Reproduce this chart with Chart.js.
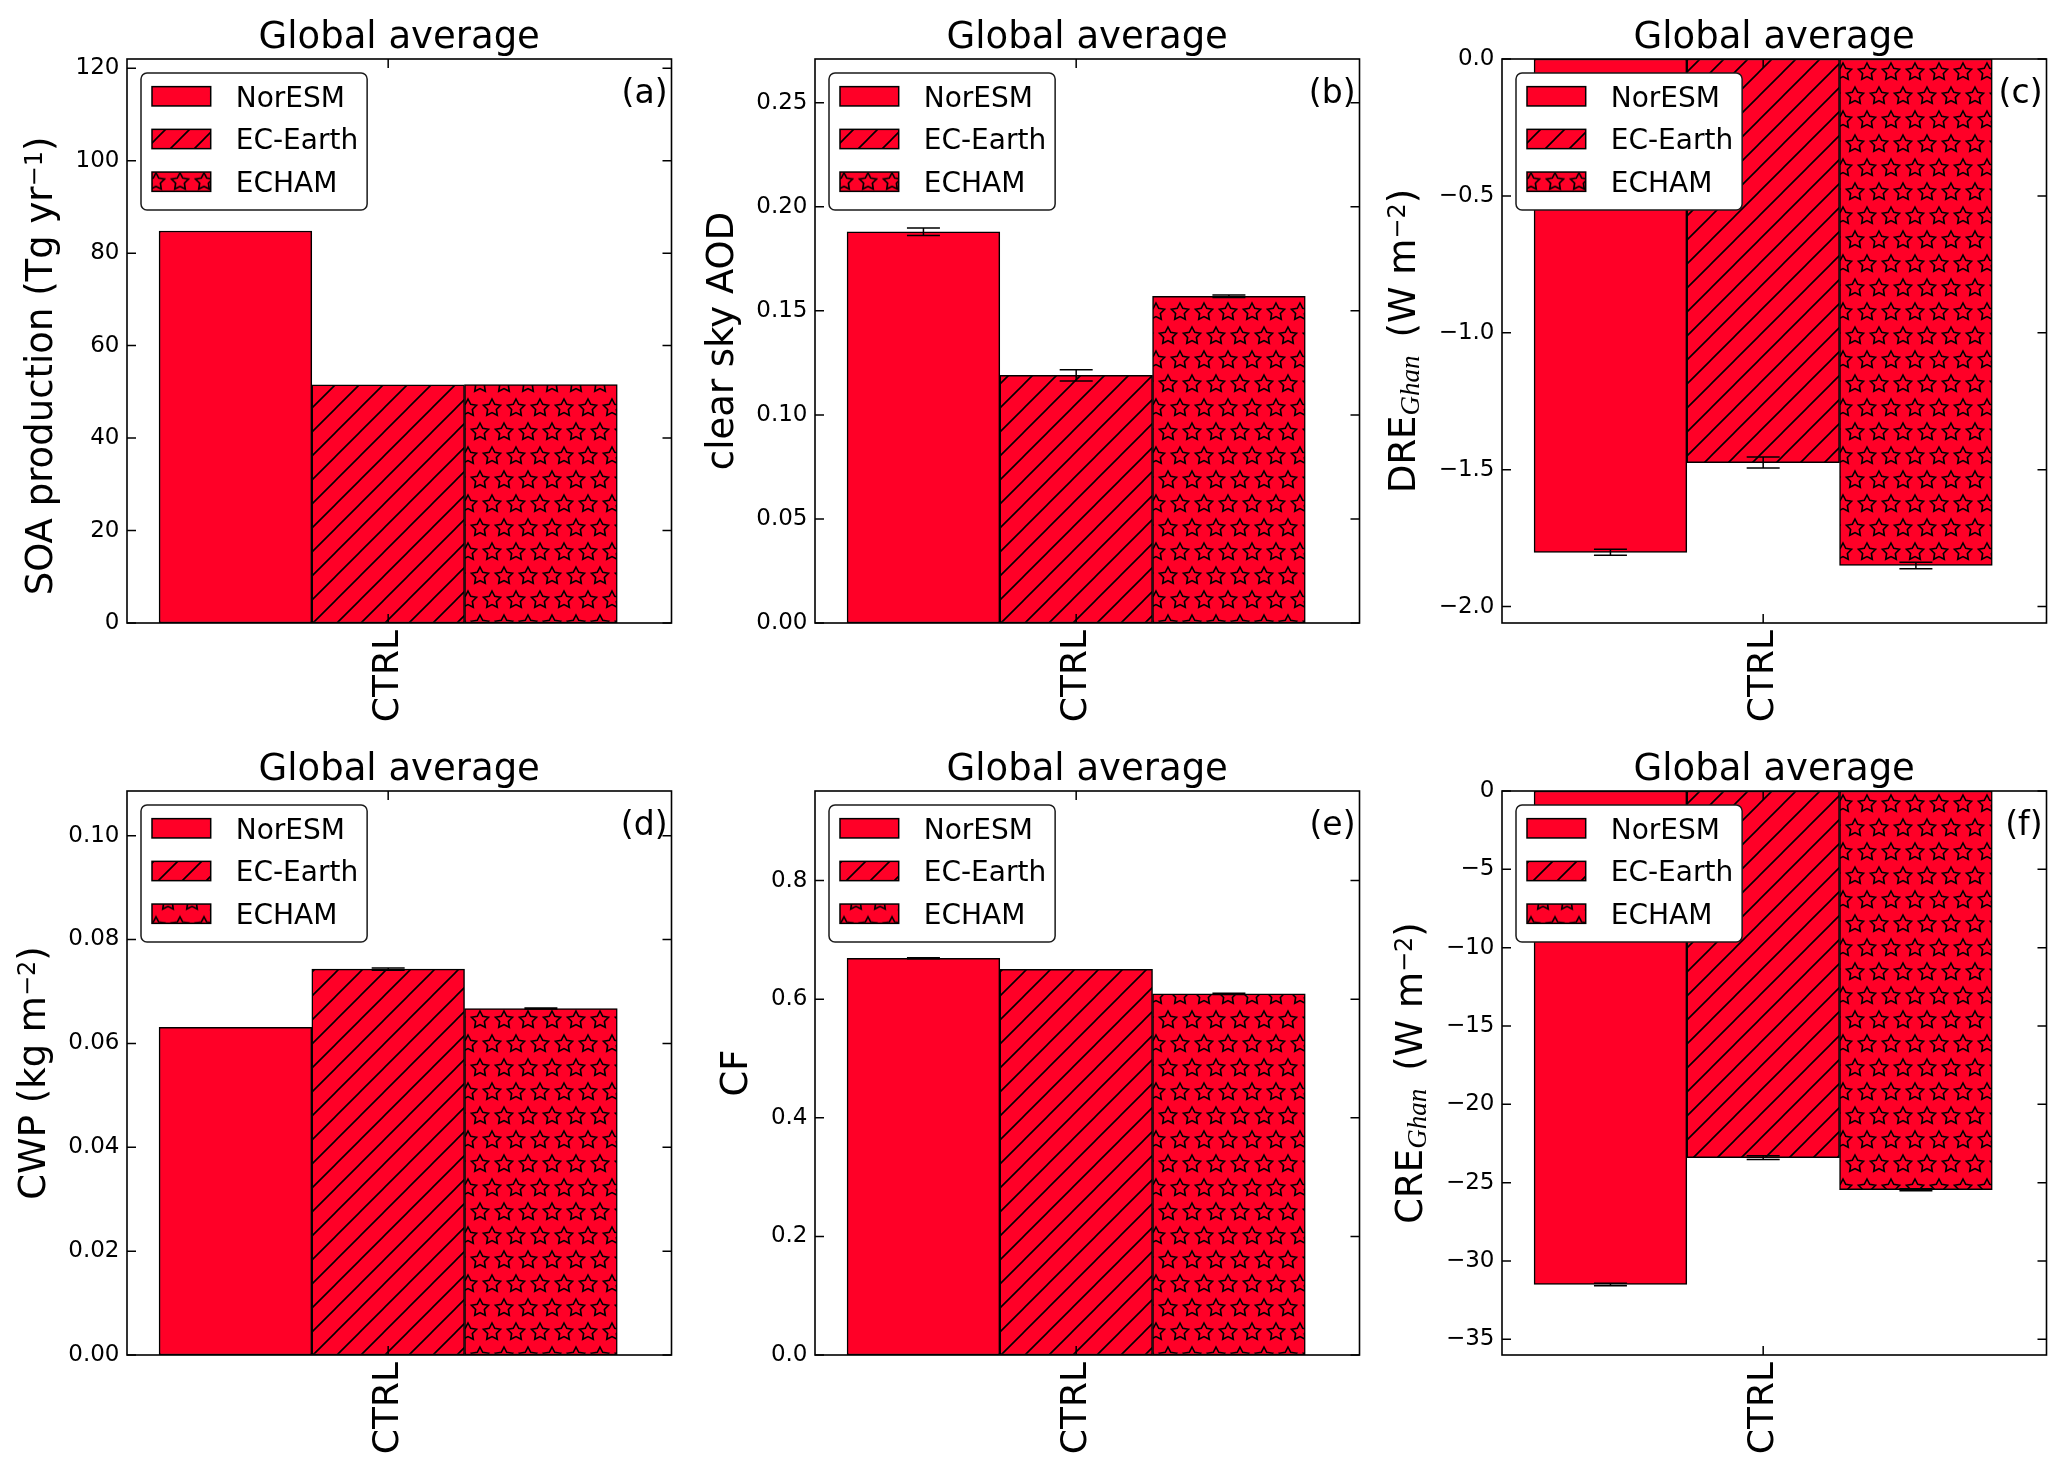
<!DOCTYPE html>
<html><head><meta charset="utf-8">
<script src="https://cdn.jsdelivr.net/npm/chart.js@4.4.0/dist/chart.umd.min.js"></script>
<style>
html,body{margin:0;padding:0;background:#fff;}
body{width:2067px;height:1476px;position:relative;overflow:hidden;}
canvas{position:absolute;}
</style></head><body>
<canvas id="pa" width="688" height="732" style="left:0px;top:0px"></canvas>
<canvas id="pb" width="688" height="732" style="left:688px;top:0px"></canvas>
<canvas id="pc" width="688" height="732" style="left:1375px;top:0px"></canvas>
<canvas id="pd" width="688" height="732" style="left:0px;top:732px"></canvas>
<canvas id="pe" width="688" height="732" style="left:688px;top:732px"></canvas>
<canvas id="pf" width="688" height="732" style="left:1375px;top:732px"></canvas>
<script>
// ---------------- data ----------------
const categories = ['CTRL'];
const models = ['NorESM', 'EC-Earth', 'ECHAM'];
const panelTitle = 'Global average';

const soaValues = [84.8, 51.5, 51.6];
const soaErrors = [0, 0, 0];
const aodValues = [0.188, 0.119, 0.157];
const aodErrors = [0.0018, 0.0027, 0.0006];
const dreValues = [-1.802, -1.474, -1.850];
const dreErrors = [0.011, 0.020, 0.012];
const cwpValues = [0.0631, 0.0743, 0.0667];
const cwpErrors = [0.0, 0.0002, 0.0001];
const cfValues = [0.669, 0.6505, 0.609];
const cfErrors = [0.001, 0.0, 0.001];
const creValues = [-31.5, -23.4, -25.45];
const creErrors = [0.08, 0.12, 0.06];

const soaTicks = [0, 20, 40, 60, 80, 100, 120];
const soaTickLabels = ['0', '20', '40', '60', '80', '100', '120'];
const aodTicks = [0, 0.05, 0.10, 0.15, 0.20, 0.25];
const aodTickLabels = ['0.00', '0.05', '0.10', '0.15', '0.20', '0.25'];
const dreTicks = [0, -0.5, -1.0, -1.5, -2.0];
const dreTickLabels = ['0.0', '\u22120.5', '\u22121.0', '\u22121.5', '\u22122.0'];
const cwpTicks = [0, 0.02, 0.04, 0.06, 0.08, 0.10];
const cwpTickLabels = ['0.00', '0.02', '0.04', '0.06', '0.08', '0.10'];
const cfTicks = [0, 0.2, 0.4, 0.6, 0.8];
const cfTickLabels = ['0.0', '0.2', '0.4', '0.6', '0.8'];
const creTicks = [0, -5, -10, -15, -20, -25, -30, -35];
const creTickLabels = ['0', '\u22125', '\u221210', '\u221215', '\u221220', '\u221225', '\u221230', '\u221235'];

// ---------------- styles ----------------
const RED = '#ff0027';
const FONT = '"DejaVu Sans", "Noto Sans", sans-serif';

function makeHatch() {
  const c = document.createElement('canvas'); c.width = 24; c.height = 24;
  const g = c.getContext('2d');
  g.fillStyle = RED; g.fillRect(0, 0, 24, 24);
  g.strokeStyle = '#000'; g.lineWidth = 1.6;
  g.beginPath();
  [0, 24, 48].forEach(k => { g.moveTo(k - 30, 30); g.lineTo(k + 30, -30); });
  g.stroke();
  return g.createPattern(c, 'repeat');
}
function starPath(g, cx, cy, R, r) {
  g.beginPath();
  for (let k = 0; k < 10; k++) {
    const ang = -Math.PI / 2 + k * Math.PI / 5;
    const rad = k % 2 === 0 ? R : r;
    const px = cx + rad * Math.cos(ang), py = cy + rad * Math.sin(ang);
    if (k === 0) g.moveTo(px, py); else g.lineTo(px, py);
  }
  g.closePath();
}
function makeStars() {
  const c = document.createElement('canvas'); c.width = 24; c.height = 48;
  const g = c.getContext('2d');
  g.fillStyle = RED; g.fillRect(0, 0, 24, 48);
  g.strokeStyle = '#000'; g.lineWidth = 1.6; g.lineJoin = 'miter';
  [[0, 0], [24, 0], [0, 48], [24, 48], [12, 24]].forEach(([x, y]) => { starPath(g, x, y, 9, 4.6); g.stroke(); });
  return g.createPattern(c, 'repeat');
}
const fills = [RED, makeHatch(), makeStars()];

const panels = [
  {id: 'pa', values: soaValues, errors: soaErrors, ticks: soaTicks, tickLabels: soaTickLabels, min: 0, max: 122, letter: '(a)',
   ylabel: [{t: 'SOA production (Tg yr'}, {t: '\u22121', f: 'sup'}, {t: ')'}], shift: 25, legendStarOffset: 0},
  {id: 'pb', values: aodValues, errors: aodErrors, ticks: aodTicks, tickLabels: aodTickLabels, min: 0, max: 0.271, letter: '(b)',
   ylabel: [{t: 'clear sky AOD'}], shift: 0, legendStarOffset: 0},
  {id: 'pc', values: dreValues, errors: dreErrors, ticks: dreTicks, tickLabels: dreTickLabels, min: -2.06, max: 0, letter: '(c)',
   ylabel: [{t: 'DRE'}, {t: 'Ghan', f: 'sub'}, {gap: 18}, {t: '(W m'}, {t: '\u22122', f: 'sup'}, {t: ')'}], shift: 0, legendStarOffset: 0},
  {id: 'pd', values: cwpValues, errors: cwpErrors, ticks: cwpTicks, tickLabels: cwpTickLabels, min: 0, max: 0.1086, letter: '(d)',
   ylabel: [{t: 'CWP (kg m'}, {t: '\u22122', f: 'sup'}, {t: ')'}], shift: 0, legendStarOffset: 12},
  {id: 'pe', values: cfValues, errors: cfErrors, ticks: cfTicks, tickLabels: cfTickLabels, min: 0, max: 0.951, letter: '(e)',
   ylabel: [{t: 'CF'}], shift: 0, legendStarOffset: 12},
  {id: 'pf', values: creValues, errors: creErrors, ticks: creTicks, tickLabels: creTickLabels, min: -36.0, max: 0, letter: '(f)',
   ylabel: [{t: 'CRE'}, {t: 'Ghan', f: 'sub'}, {gap: 18}, {t: '(W m'}, {t: '\u22122', f: 'sup'}, {t: ')'}], shift: 0, legendStarOffset: 12}
];

function drawRich(ctx, segs, bx, cy) {
  const fonts = {main: '37px ' + FONT, sup: '24px ' + FONT, sub: 'italic 27px "Liberation Serif", "DejaVu Serif", serif'};
  const shifts = {main: 0, sup: -10, sub: 4};
  let total = 0;
  segs.forEach(s => {
    if (s.gap) { total += s.gap; return; }
    ctx.font = fonts[s.f || 'main']; s.w = ctx.measureText(s.t).width; total += s.w;
  });
  ctx.save();
  ctx.translate(bx, cy); ctx.rotate(-Math.PI / 2);
  ctx.textAlign = 'left'; ctx.textBaseline = 'alphabetic'; ctx.fillStyle = '#000';
  let xx = -total / 2;
  segs.forEach(s => {
    if (s.gap) { xx += s.gap; return; }
    ctx.font = fonts[s.f || 'main'];
    ctx.fillText(s.t, xx, shifts[s.f || 'main']);
    xx += s.w;
  });
  ctx.restore();
}

function roundRect(ctx, x, y, w, h, r) {
  ctx.beginPath();
  ctx.moveTo(x + r, y); ctx.lineTo(x + w - r, y); ctx.arcTo(x + w, y, x + w, y + r, r);
  ctx.lineTo(x + w, y + h - r); ctx.arcTo(x + w, y + h, x + w - r, y + h, r);
  ctx.lineTo(x + r, y + h); ctx.arcTo(x, y + h, x, y + h - r, r);
  ctx.lineTo(x, y + r); ctx.arcTo(x, y, x + r, y, r);
  ctx.closePath();
}

const decor = {
  id: 'decor',
  afterDatasetsDraw(chart) {
    const p = chart.options.plugins.decor;
    const {ctx, chartArea: a} = chart;
    const xs = chart.scales.x, ys = chart.scales.y;
    ctx.save();
    ctx.strokeStyle = '#000';
    ctx.lineWidth = 1.5;
    p.values.forEach((v, i) => {
      const e = p.errors[i];
      if (!(e > 0)) return;
      const px = xs.getPixelForValue(i - 1);
      const y1 = ys.getPixelForValue(v - e), y2 = ys.getPixelForValue(v + e);
      ctx.beginPath();
      ctx.moveTo(px, y1); ctx.lineTo(px, y2);
      ctx.moveTo(px - 16.5, y1); ctx.lineTo(px + 16.5, y1);
      ctx.moveTo(px - 16.5, y2); ctx.lineTo(px + 16.5, y2);
      ctx.stroke();
    });
    // tick marks (inward, all sides)
    ctx.lineWidth = 1.5;
    ctx.beginPath();
    ys.ticks.forEach(t => {
      const py = ys.getPixelForValue(t.value);
      ctx.moveTo(a.left, py); ctx.lineTo(a.left + 9, py);
      ctx.moveTo(a.right, py); ctx.lineTo(a.right - 9, py);
    });
    xs.ticks.forEach(t => {
      const px = xs.getPixelForValue(t.value);
      ctx.moveTo(px, a.bottom); ctx.lineTo(px, a.bottom - 9);
      ctx.moveTo(px, a.top); ctx.lineTo(px, a.top + 9);
    });
    ctx.stroke();
    // frame
    ctx.lineWidth = 1.6;
    ctx.strokeRect(a.left, a.top, a.right - a.left, a.bottom - a.top);
    ctx.restore();
  },
  afterDraw(chart) {
    const p = chart.options.plugins.decor;
    const {ctx, chartArea: a} = chart;
    ctx.save();
    // legend
    ctx.font = '28px ' + FONT;
    const tw = Math.max(...models.map(m => ctx.measureText(m).width));
    const lx = a.left + 14, ly = a.top + 14;
    const lw = 11 + 58.7 + 25 + tw + 9, lh = 137;
    roundRect(ctx, lx, ly, lw, lh, 6);
    ctx.fillStyle = '#fff'; ctx.fill();
    ctx.strokeStyle = '#1a1a1a'; ctx.lineWidth = 1.5; ctx.stroke();
    chart.data.datasets.forEach((ds, i) => {
      const cy = ly + 23.3 + i * 42.7;
      const hx = lx + 11, hy = cy - 9.65;
      ctx.save();
      ctx.translate(hx + 4, cy + p.legendStarOffset);
      ctx.fillStyle = ds.backgroundColor;
      ctx.fillRect(hx - (hx + 4), hy - (cy + p.legendStarOffset), 58.7, 19.3);
      ctx.restore();
      ctx.strokeStyle = '#000'; ctx.lineWidth = 1.5;
      ctx.strokeRect(hx, hy, 58.7, 19.3);
      ctx.fillStyle = '#000'; ctx.textAlign = 'left'; ctx.textBaseline = 'alphabetic';
      ctx.font = '28px ' + FONT;
      ctx.fillText(ds.label, lx + 94.7, cy + 10.2);
    });
    // title
    ctx.fillStyle = '#000';
    ctx.font = '37px ' + FONT; ctx.textAlign = 'center'; ctx.textBaseline = 'alphabetic';
    ctx.fillText(panelTitle, (a.left + a.right) / 2, a.top - 11);
    // panel letter
    ctx.font = '33px ' + FONT; ctx.textAlign = 'right';
    ctx.fillText(p.letter, a.right - 4, a.top + 44.4);
    // y label
    ctx.font = '23px ' + FONT;
    const maxW = Math.max(...p.tickLabels.map(s => ctx.measureText(s).width));
    const tickLeft = a.left - 7.5 - maxW;
    drawRich(ctx, p.ylabel, tickLeft - 15 - 8.7, (a.top + a.bottom) / 2 + p.shift);
    ctx.restore();
  }
};

panels.forEach(p => {
  const datasets = models.map((m, i) => ({
    label: m,
    data: [{x: i - 1, y: p.values[i]}],
    backgroundColor: fills[i],
    borderColor: '#000',
    borderWidth: 1.5,
    borderSkipped: false,
    grouped: false,
    categoryPercentage: 1.0,
    barPercentage: 1.0
  }));
  new Chart(document.getElementById(p.id), {
    type: 'bar',
    data: {datasets},
    plugins: [decor],
    options: {
      responsive: false,
      animation: false,
      devicePixelRatio: 1,
      layout: {padding: {top: 59, right: 16.5, bottom: 0, left: 0}},
      scales: {
        x: {
          type: 'linear', min: -1.71, max: 1.855, offset: false,
          grid: {display: false, drawTicks: false}, border: {display: false},
          afterBuildTicks: s => { s.ticks = [{value: 0}]; },
          afterFit: s => { s.height = 109; },
          ticks: {
            autoSkip: false, minRotation: 90, maxRotation: 90, padding: 7,
            color: '#000', font: {family: FONT, size: 36},
            callback: (v, idx) => categories[idx]
          }
        },
        y: {
          type: 'linear', min: p.min, max: p.max,
          grid: {display: false, drawTicks: false}, border: {display: false},
          afterBuildTicks: s => { s.ticks = p.ticks.map(v => ({value: v})); },
          afterFit: s => { s.width = 127; },
          ticks: {
            autoSkip: false, padding: 7.5, color: '#000', font: {family: FONT, size: 23},
            callback: (v, idx) => p.tickLabels[idx]
          }
        }
      },
      plugins: {
        legend: {display: false},
        tooltip: {enabled: false},
        title: {display: false},
        decor: p
      }
    }
  });
});
</script>
</body></html>
